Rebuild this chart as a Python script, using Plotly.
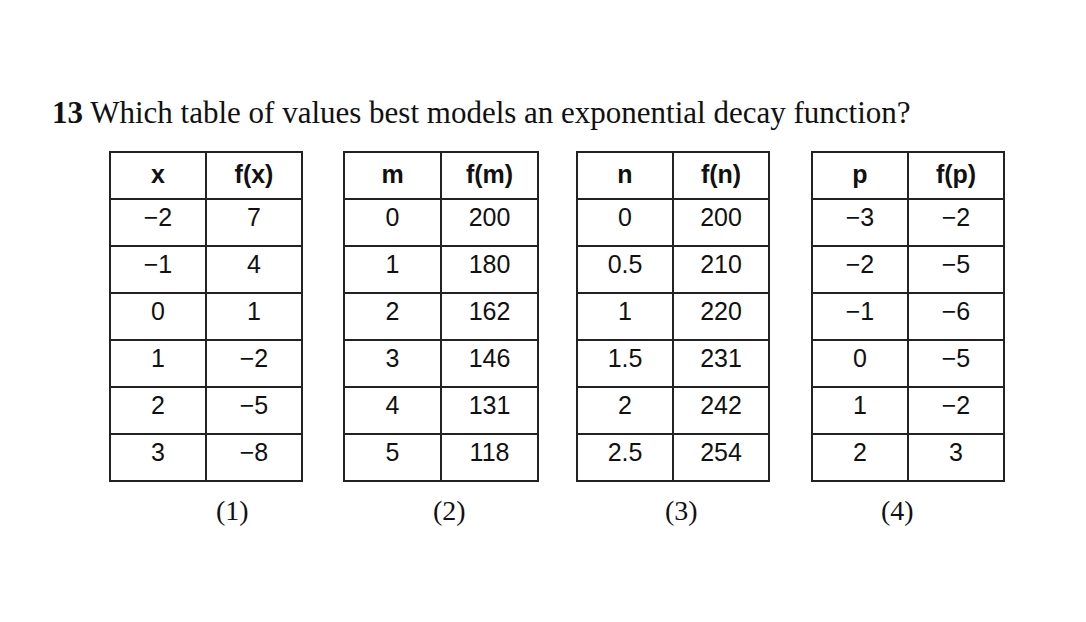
import plotly.graph_objects as go

headers = [["<b>x</b>", "<b>f(x)</b>"], ["<b>m</b>", "<b>f(m)</b>"],
           ["<b>n</b>", "<b>f(n)</b>"], ["<b>p</b>", "<b>f(p)</b>"]]
col_in = [
    ["−2", "−1", "0", "1", "2", "3"],
    ["0", "1", "2", "3", "4", "5"],
    ["0", "0.5", "1", "1.5", "2", "2.5"],
    ["−3", "−2", "−1", "0", "1", "2"],
]
col_out = [
    ["7", "4", "1", "−2", "−5", "−8"],
    ["200", "180", "162", "146", "131", "118"],
    ["200", "210", "220", "231", "242", "254"],
    ["−2", "−5", "−6", "−5", "−2", "3"],
]
labels = ["(1)", "(2)", "(3)", "(4)"]

W, H = 1086, 622
lefts = [102, 336, 569, 804]
widths = [192, 194, 193, 192]
top, bottom = 144, 474

fig = go.Figure()
for i in range(4):
    x0 = lefts[i] / W
    x1 = (lefts[i] + widths[i]) / W
    fig.add_trace(go.Table(
        domain=dict(x=[x0, x1], y=[1 - bottom / H, 1 - top / H]),
        columnwidth=[1, 1],
        header=dict(values=headers[i], height=47, align="center",
                    line=dict(color="#222", width=2), fill_color="white",
                    font=dict(family="Liberation Sans, Arial", size=25, color="#111")),
        cells=dict(values=[col_in[i], col_out[i]], height=47, align="center",
                   line=dict(color="#222", width=2), fill_color="white",
                   font=dict(family="Liberation Sans, Arial", size=25, color="#111")),
    ))
    fig.add_annotation(x=(lefts[i] + 8 + widths[i] / 2) / W, y=1 - 520 / H, xref="paper", yref="paper",
                       text=labels[i], showarrow=False,
                       font=dict(family="Liberation Serif, serif", size=28, color="#111"))

fig.add_annotation(x=42 / W, y=1 - 85 / H, xref="paper", yref="paper", xanchor="left",
                   text="<b>13</b> Which table of values best models an exponential decay function?",
                   showarrow=False,
                   font=dict(family="Liberation Serif, serif", size=31, color="#111"))

fig.update_layout(width=W, height=H, margin=dict(l=0, r=0, t=0, b=0),
                  paper_bgcolor="white", plot_bgcolor="white")
fig.write_html("out.html")
